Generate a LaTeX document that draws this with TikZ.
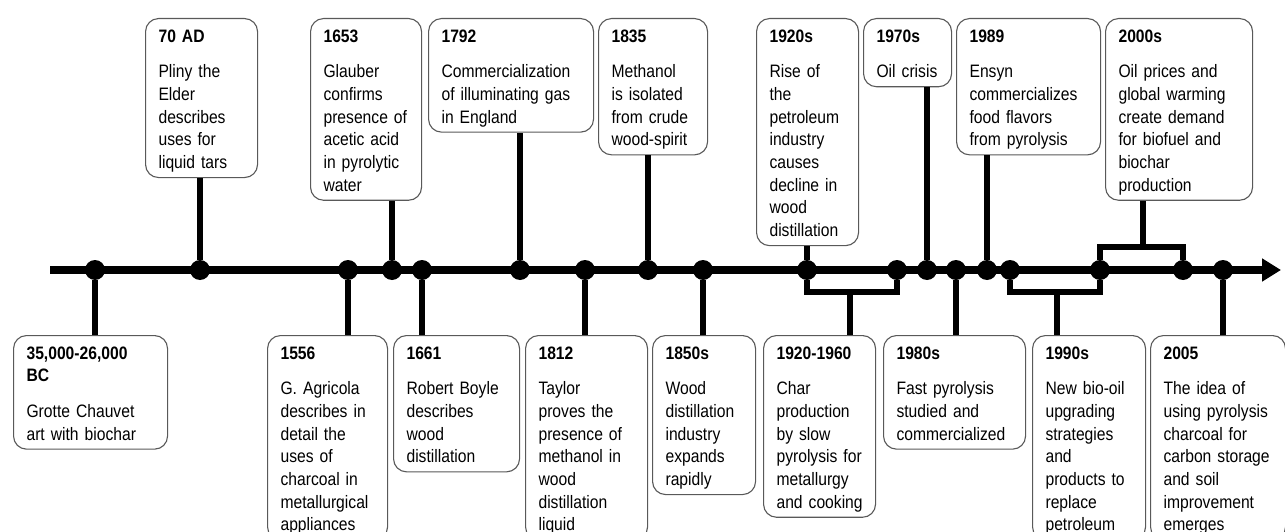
\documentclass[tikz,border=0pt]{standalone}
\usepackage{fontspec}
\setmainfont{Liberation Sans}[FakeStretch=0.87]
\usetikzlibrary{arrows.meta}
\tikzset{
  evbox/.style={draw=black!65, line width=1.1pt, rounded corners=13pt, fill=white,
    anchor=north west, align=left, inner xsep=13pt, inner ysep=0pt,
    font=\fontsize{18}{22.7}\selectfont},
  dot/.style={circle, fill=black, inner sep=0pt, minimum size=20pt},
  stem/.style={line width=6pt},
  axis/.style={line width=7.5pt, -{Triangle[length=19pt,width=22pt]}}
}
\newcommand{\evhead}[1]{\rule{0pt}{23.5pt}\textbf{#1}}
\newcommand{\evgap}{\\[13pt]}
\newcommand{\evend}{\rule[-9pt]{0pt}{9pt}}

\begin{document}
\begin{tikzpicture}[x=1pt,y=-1pt]
  \useasboundingbox (0,0) rectangle (1285,532);
  % time axis
  \coordinate (start) at (50,270);
  \coordinate (tip) at (1281,270);
  \draw[axis] (start) -- (tip);
  \foreach \x [count=\i] in {95,200,348,392,422,520,585,648,703,807,897,927,956,987,1010,1100,1183,1223}
    \node[dot] (d\i) at (\x,270) {};

  % events above the axis
  \node[evbox, text width=86pt] (ad70) at (145,18)
    {\evhead{70 AD}\evgap Pliny the\\Elder\\describes\\uses for\\liquid tars\evend};
  \node[evbox, text width=85pt] (y1653) at (310,18)
    {\evhead{1653}\evgap Glauber\\confirms\\presence~of\\acetic acid\\in pyrolytic\\water\evend};
  \node[evbox, text width=139pt] (y1792) at (428,18)
    {\evhead{1792}\evgap Commercialization\\of illuminating gas\\in England\evend};
  \node[evbox, text width=83pt] (y1835) at (598,18)
    {\evhead{1835}\evgap Methanol\\is isolated\\from crude\\wood-spirit\evend};
  \node[evbox, text width=76pt] (y1920) at (756,18)
    {\evhead{1920s}\evgap Rise of\\the\\petroleum\\industry\\causes\\decline in\\wood\\distillation\evend};
  \node[evbox, text width=62pt] (y1970) at (863,18)
    {\evhead{1970s}\evgap Oil~crisis\evend};
  \node[evbox, text width=118pt] (y1989) at (956,18)
    {\evhead{1989}\evgap Ensyn\\commercializes\\food flavors\\from pyrolysis\evend};
  \node[evbox, text width=121pt] (y2000) at (1105,18)
    {\evhead{2000s}\evgap Oil prices and\\global warming\\create demand\\for biofuel and\\biochar\\production\evend};

  % events below the axis
  \node[evbox, text width=128pt] (bc) at (13,335)
    {\evhead{35,000-26,000}\\\textbf{BC}\evgap Grotte Chauvet\\art with biochar\evend};
  \node[evbox, text width=94pt] (y1556) at (267,335)
    {\evhead{1556}\evgap G. Agricola\\describes~in\\detail the\\uses of\\charcoal in\\metallurgical\\appliances\evend};
  \node[evbox, text width=100pt] (y1661) at (393,335)
    {\evhead{1661}\evgap Robert~Boyle\\describes\\wood\\distillation\evend};
  \node[evbox, text width=96pt] (y1812) at (525,335)
    {\evhead{1812}\evgap Taylor\\proves the\\presence~of\\methanol~in\\wood\\distillation\\liquid\evend};
  \node[evbox, text width=77pt] (y1850) at (652,335)
    {\evhead{1850s}\evgap Wood\\distillation\\industry\\expands\\rapidly\evend};
  \node[evbox, text width=86pt] (y1920b) at (763,335)
    {\evhead{1920-1960}\evgap Char\\production\\by slow\\pyrolysis~for\\metallurgy\\and~cooking\evend};
  \node[evbox, text width=116pt] (y1980) at (883,335)
    {\evhead{1980s}\evgap Fast pyrolysis\\studied and\\commercialized\evend};
  \node[evbox, text width=87pt] (y1990) at (1032,335)
    {\evhead{1990s}\evgap New bio-oil\\upgrading\\strategies\\and\\products~to\\replace\\petroleum\evend};
  \node[evbox, text width=109pt] (y2005) at (1150,335)
    {\evhead{2005}\evgap The idea of\\using~pyrolysis\\charcoal for\\carbon~storage\\and soil\\improvement\\emerges\evend};

  % stems
  \draw[stem] (d1) -- (d1 |- bc.north);
  \draw[stem] (d2) -- (d2 |- ad70.south);
  \draw[stem] (d3) -- (d3 |- y1556.north);
  \draw[stem] (d4) -- (d4 |- y1653.south);
  \draw[stem] (d5) -- (d5 |- y1661.north);
  \draw[stem] (d6) -- (d6 |- y1792.south);
  \draw[stem] (d7) -- (d7 |- y1812.north);
  \draw[stem] (d8) -- (d8 |- y1835.south);
  \draw[stem] (d9) -- (d9 |- y1850.north);
  \draw[stem] (d10) -- (d10 |- y1920.south);
  \draw[stem] (d12) -- (d12 |- y1970.south);
  \draw[stem] (d13) -- (d13 |- y1980.north);
  \draw[stem] (d14) -- (d14 |- y1989.south);
  \draw[stem] (d18) -- (d18 |- y2005.north);

  % brackets for periods
  \coordinate (br1) at (850,292);
  \coordinate (br2) at (1057,292);
  \coordinate (br3) at (1143,247);
  \draw[stem] (d10) |- (br1) -| (d11);
  \draw[stem] (br1) -- (br1 |- y1920b.north);
  \draw[stem] (d15) |- (br2) -| (d16);
  \draw[stem] (br2) -- (br2 |- y1990.north);
  \draw[stem] (d16) |- (br3) -| (d17);
  \draw[stem] (br3) -- (br3 |- y2000.south);
\end{tikzpicture}
\end{document}
